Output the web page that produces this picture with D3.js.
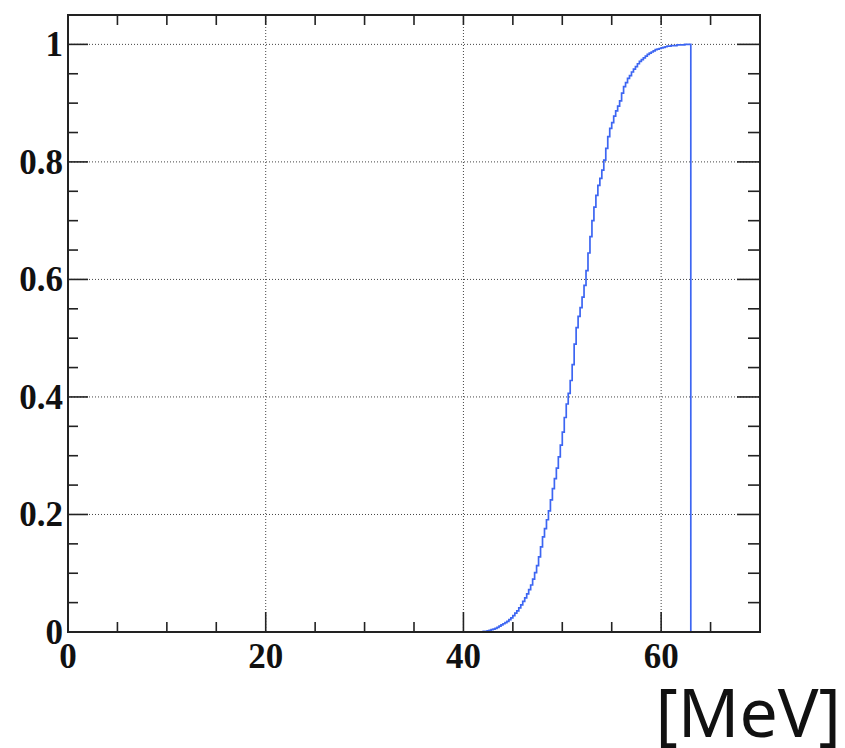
<!DOCTYPE html>
<html>
<head>
<meta charset="utf-8">
<script src="https://cdn.jsdelivr.net/npm/d3@7/dist/d3.min.js"></script>
<style>
  html, body { margin: 0; padding: 0; background: #fff; }
  svg { display: block; }
</style>
</head>
<body>
<svg id="chart" width="845" height="748"></svg>
<script>
// Cumulative energy distribution, histogram style
const xDomain = [0, 70];
const yDomain = [0, 1.05];
const xMajorTicks = [0, 20, 40, 60];
const xTickLabels = ["0", "20", "40", "60"];
const yMajorTicks = [0, 0.2, 0.4, 0.6, 0.8, 1.0];
const yTickLabels = ["0", "0.2", "0.4", "0.6", "0.8", "1"];
const axisTitle = "[MeV]";

// Histogram binning (MeV)
const binStart = 41.8;
const binWidth = 0.2;
// Cumulative fraction in each bin, from 41.8 MeV up to 63.0 MeV
const cumulative = [
  0.000, 0.001, 0.001, 0.002, 0.003, 0.004, 0.005, 0.006, 0.008, 0.010,
  0.012, 0.014, 0.016, 0.018, 0.021, 0.024, 0.028, 0.032, 0.036, 0.041,
  0.046, 0.052, 0.058, 0.065, 0.072, 0.080, 0.090, 0.101, 0.113, 0.128,
  0.145, 0.162, 0.176, 0.191, 0.206, 0.225, 0.244, 0.261, 0.279, 0.298,
  0.318, 0.340, 0.365, 0.388, 0.406, 0.428, 0.455, 0.490, 0.518, 0.537,
  0.552, 0.570, 0.590, 0.615, 0.645, 0.673, 0.700, 0.723, 0.743, 0.760,
  0.772, 0.786, 0.803, 0.823, 0.843, 0.857, 0.867, 0.878, 0.887, 0.895,
  0.904, 0.917, 0.928, 0.935, 0.942, 0.947, 0.953, 0.958, 0.962, 0.967,
  0.971, 0.974, 0.977, 0.980, 0.983, 0.985, 0.987, 0.989, 0.991, 0.992,
  0.993, 0.994, 0.995, 0.996, 0.997, 0.997, 0.998, 0.998, 0.998, 0.999,
  0.999, 0.999, 0.999, 1.000, 1.000, 1.000
];

const frame = { left: 68, right: 760, top: 15, bottom: 632 };
const svg = d3.select("#chart");

const x = d3.scaleLinear().domain(xDomain).range([frame.left, frame.right]);
const y = d3.scaleLinear().domain(yDomain).range([frame.bottom, frame.top]);

const xMinor = d3.range(0, 70.001, 5);
const yMinor = d3.range(0, 1.0501, 0.05);

// Dotted grid at the major ticks
const grid = svg.append("g").attr("stroke", "#444").attr("stroke-width", 1)
  .attr("stroke-dasharray", "1,2");
grid.selectAll("line.gx").data(xMajorTicks.filter(d => d > 0)).join("line")
  .attr("x1", d => x(d)).attr("x2", d => x(d))
  .attr("y1", frame.top).attr("y2", frame.bottom);
grid.selectAll("line.gy").data(yMajorTicks.filter(d => d > 0)).join("line")
  .attr("x1", frame.left).attr("x2", frame.right)
  .attr("y1", d => y(d)).attr("y2", d => y(d));

// Step outline of the histogram
const steps = [[0, 0], [binStart, 0]];
cumulative.forEach((v, i) => {
  const lo = binStart + i * binWidth;
  steps.push([lo, v]);
  steps.push([lo + binWidth, v]);
});
const binEnd = binStart + cumulative.length * binWidth;
steps.push([binEnd, 0]);
steps.push([xDomain[1], 0]);

svg.append("path")
  .datum(steps)
  .attr("fill", "none")
  .attr("stroke", "#3d66f2")
  .attr("stroke-width", 1.7)
  .attr("d", d3.line().x(d => x(d[0])).y(d => y(d[1])));

// Tick marks on all four sides
const ticks = svg.append("g").attr("stroke", "#222").attr("stroke-width", 1.6);
const isMajorX = d => xMajorTicks.some(t => Math.abs(t - d) < 1e-6);
const isMajorY = d => yMajorTicks.some(t => Math.abs(t - d) < 1e-6);

ticks.selectAll("line.bx").data(xMinor).join("line")
  .attr("x1", d => x(d)).attr("x2", d => x(d))
  .attr("y1", frame.bottom).attr("y2", d => frame.bottom - (isMajorX(d) ? 20 : 10));
ticks.selectAll("line.tx").data(xMinor).join("line")
  .attr("x1", d => x(d)).attr("x2", d => x(d))
  .attr("y1", frame.top).attr("y2", frame.top + 10);
ticks.selectAll("line.ly").data(yMinor).join("line")
  .attr("y1", d => y(d)).attr("y2", d => y(d))
  .attr("x1", frame.left).attr("x2", d => frame.left + (isMajorY(d) ? 20 : 10));
ticks.selectAll("line.ry").data(yMinor).join("line")
  .attr("y1", d => y(d)).attr("y2", d => y(d))
  .attr("x1", frame.right).attr("x2", d => frame.right - (isMajorY(d) ? 23 : 12));

// Frame
svg.append("rect")
  .attr("x", frame.left).attr("y", frame.top)
  .attr("width", frame.right - frame.left).attr("height", frame.bottom - frame.top)
  .attr("fill", "none").attr("stroke", "#222").attr("stroke-width", 2);

// Tick labels
const labelFont = "'Liberation Serif', 'Times New Roman', serif";
svg.append("g").selectAll("text").data(xMajorTicks).join("text")
  .attr("x", d => x(d)).attr("y", 668)
  .attr("text-anchor", "middle")
  .attr("font-family", labelFont).attr("font-weight", "bold").attr("font-size", 35)
  .attr("fill", "#111")
  .text((d, i) => xTickLabels[i]);

svg.append("g").selectAll("text").data(yMajorTicks).join("text")
  .attr("x", 63).attr("y", d => y(d) + 12)
  .attr("text-anchor", "end")
  .attr("font-family", labelFont).attr("font-weight", "bold").attr("font-size", 35)
  .attr("fill", "#111")
  .text((d, i) => yTickLabels[i]);

// Axis title
svg.append("text")
  .attr("x", 841).attr("y", 737)
  .attr("text-anchor", "end")
  .attr("font-family", "'Noto Sans', sans-serif")
  .attr("font-size", 68)
  .attr("fill", "#111")
  .text(axisTitle);
</script>
</body>
</html>
